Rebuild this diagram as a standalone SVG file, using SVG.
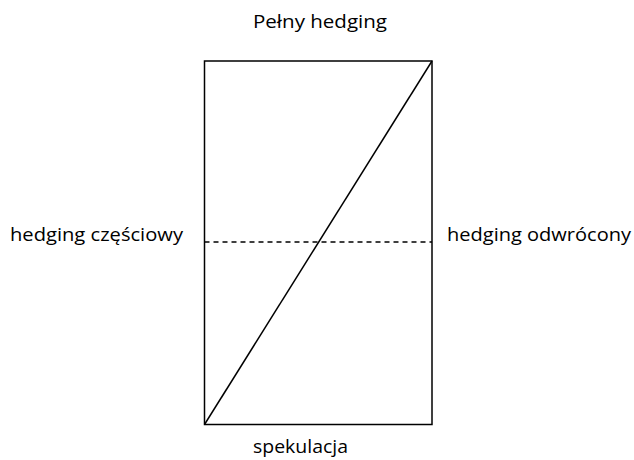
<svg xmlns="http://www.w3.org/2000/svg" width="634" height="460" viewBox="0 0 634 460">
<style>
text{font-family:"Open Sans","Liberation Sans",sans-serif;font-size:17.5px;fill:#000}
.ln{stroke:#000;stroke-width:1.5;fill:none}
</style>
<rect width="634" height="460" fill="#fff"/>
<g id="box">
<rect class="ln" x="204.5" y="61" width="227.5" height="363.5"/>
</g>
<g id="connectors">
<line class="ln" x1="204.5" y1="424.5" x2="432" y2="61"/>
<line class="ln" x1="204.5" y1="242" x2="432" y2="242" stroke-dasharray="5,4"/>
</g>
<g id="top"><text x="253" y="28" textLength="134" lengthAdjust="spacingAndGlyphs">Pełny hedging</text></g>
<g id="left"><text x="10" y="241" textLength="173" lengthAdjust="spacingAndGlyphs">hedging częściowy</text></g>
<g id="right"><text x="447" y="241" textLength="184" lengthAdjust="spacingAndGlyphs">hedging odwrócony</text></g>
<g id="bottom"><text x="253" y="453" textLength="95" lengthAdjust="spacingAndGlyphs">spekulacja</text></g>
</svg>
